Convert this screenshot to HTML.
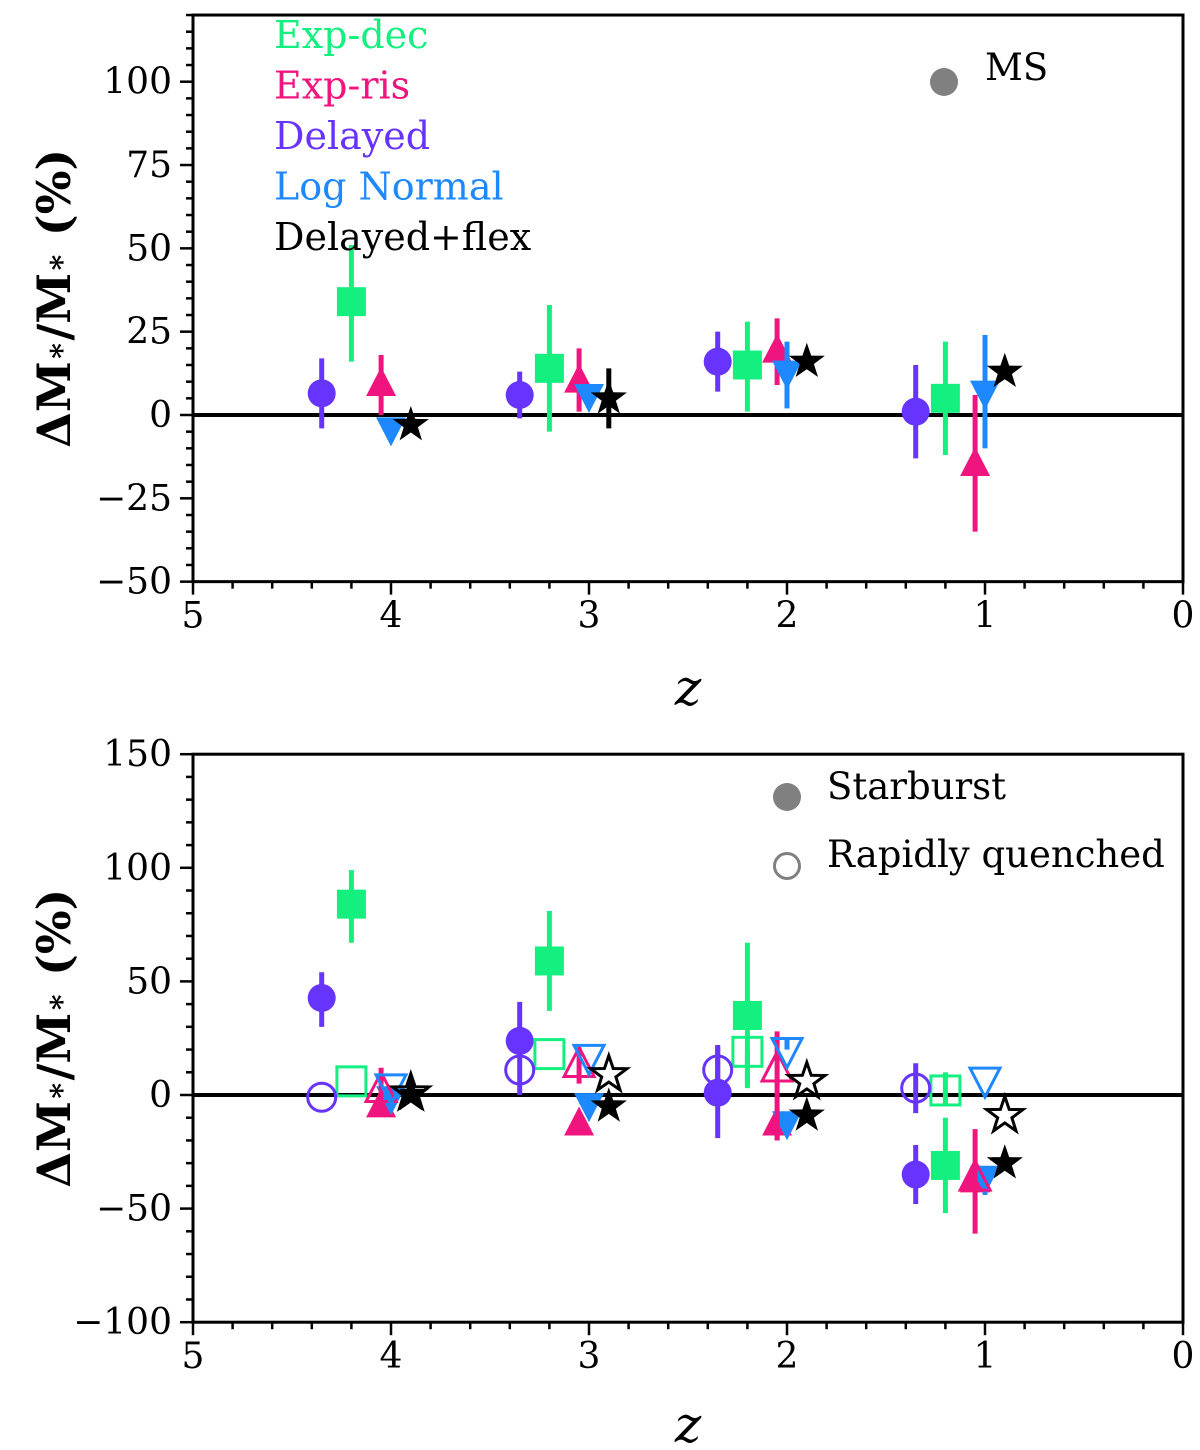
<!DOCTYPE html>
<html><head><meta charset="utf-8"><style>
body{margin:0;background:#fff}
svg text{font-family:"DejaVu Serif","Liberation Serif",serif}
</style></head><body>
<svg id="c" width="1200" height="1445" xmlns="http://www.w3.org/2000/svg"></svg>
<script>
const NS="http://www.w3.org/2000/svg";
const svg=document.getElementById('c');
const models=["Exp-dec","Exp-ris","Delayed","Log Normal","Delayed+flex"];
const colors=["#14f07f","#f0147f","#6633ff","#1e88ff","#000000"];
const shapes=["square","tri-up","circle","tri-down","star"];
const zOffsets=[0.8,0.95,0.65,1.0,1.1];
const groups=[5,4,3,2];
// top panel (MS): [value, errLow, errHigh] per model per group
const msExpDec=[[34,16,51],[14,-5,33],[15,1,28],[5,-12,22]];
const msExpRis=[[9,0,18],[10,1,20],[19,9,29],[-15,-35,6]];
const msDelayed=[[6.5,-4,17],[6,-1,13],[16,7,25],[1,-13,15]];
const msLogNormal=[[-4,-4,-4],[6,6,6],[13,2,22],[7,-10,24]];
const msFlex=[[-3,-3,-3],[5,-4,14],[16,16,16],[13,13,13]];
// bottom panel starburst (filled)
const sbExpDec=[[84,67,99],[59,37,81],[35,3,67],[-31,-52,-10]];
const sbExpRis=[[-5,-5,-5],[-13,-13,-13],[-13,-20,-13],[-38,-38,-38]];
const sbDelayed=[[42.7,30,54],[23.8,0,41],[1,-19,21],[-35,-48,-22]];
const sbLogNormal=[[-1,-1,-1],[-4,-4,-4],[-12,-12,-12],[-36,-44,-36]];
const sbFlex=[[0,0,0],[-5,-5,-5],[-9,-9,-9],[-30,-30,-30]];
// rapidly quenched (open)
const rqExpDec=[[6,6,6],[18,18,18],[19,5,19],[2,-5,10]];
const rqExpRis=[[2,-2,12],[13,5,21],[11,-20,28],[-37,-61,-15]];
const rqDelayed=[[-1,-1,-1],[11,11,11],[11,0,22],[3,-8,14]];
const rqLogNormal=[[4,4,4],[17,17,17],[20,20,25],[7,7,7]];
const rqFlex=[[1,1,1],[9,9,9],[6,6,6],[-9,-9,-9]];
const topYTicks=[-50,-25,0,25,50,75,100];
const botYTicks=[-100,-50,0,50,100,150];
const xTicks=[5,4,3,2,1,0];

function el(tag,a,parent){const e=document.createElementNS(NS,tag);for(const k in a)e.setAttribute(k,a[k]);(parent||svg).appendChild(e);return e;}
const xs=z=>193+(5-z)*198;

function marker(g,shape,cx,cy,col,filled){
  const s=14.5;let e;
  const st=filled?{fill:col,stroke:'none'}:{fill:'none',stroke:col,'stroke-width':3};
  if(shape==='circle')e=el('circle',Object.assign({cx,cy,r:14},st),g);
  else if(shape==='square')e=el('rect',Object.assign({x:cx-s,y:cy-s,width:2*s,height:2*s},st),g);
  else if(shape==='tri-up')e=el('polygon',Object.assign({points:`${cx},${cy-18} ${cx+15},${cy+11} ${cx-15},${cy+11}`},st),g);
  else if(shape==='tri-down')e=el('polygon',Object.assign({points:`${cx},${cy+18} ${cx+15},${cy-11} ${cx-15},${cy-11}`},st),g);
  else{let p=[];for(let i=0;i<10;i++){const r=i%2?7.5:19,a=-Math.PI/2+i*Math.PI/5;p.push((cx+r*Math.cos(a)).toFixed(1)+','+(cy+r*Math.sin(a)).toFixed(1));}
    e=el('polygon',Object.assign({points:p.join(' ')},st),g);}
  
  
}

function panel(name,y0,pxPer,ymin,ymax,yticks,minorStep,sets,filledFlags,xlabelY){
  const ys=v=>y0-v*pxPer;
  const g=el('g',{});
  
  
  const top=ys(ymax),bot=ys(ymin);
  el('line',{x1:193,x2:1183,y1:ys(0),y2:ys(0),stroke:'#000','stroke-width':4},g);
  for(let v=ymin;v<=ymax+1e-6;v+=minorStep){const major=yticks.includes(v);
    el('line',{x1:193,x2:major?180:186,y1:ys(v),y2:ys(v),stroke:'#000','stroke-width':2.5},g);}
  yticks.forEach(v=>{const t=el('text',{x:172,y:ys(v)+12,'text-anchor':'end','font-size':36},g);t.textContent=(v<0?'\u2212'+(-v):v);
    });
  for(let z=0;z<=5.001;z+=0.2){const major=Math.abs(z-Math.round(z))<1e-6;
    el('line',{x1:xs(z),x2:xs(z),y1:bot,y2:bot+(major?13:7),stroke:'#000','stroke-width':2.5},g);}
  xTicks.forEach(z=>{const t=el('text',{x:xs(z),y:bot+46,'text-anchor':'middle','font-size':36},g);t.textContent=z;
    });
  el('rect',{x:193,y:top,width:990,height:bot-top,fill:'none',stroke:'#000','stroke-width':3},g);
  const xl=el('text',{x:688,y:xlabelY,'text-anchor':'middle','font-size':50,'font-style':'italic'},g);xl.textContent='z';
  
  const yl=el('text',{x:0,y:0,'text-anchor':'middle','font-size':46,'font-weight':'bold',transform:`translate(70,${(top+bot)/2}) rotate(-90)`},g);
  yl.innerHTML='\u0394M<tspan font-size="30" dy="-4">\u2217</tspan><tspan dy="4">/M</tspan><tspan font-size="30" dy="-4">\u2217</tspan><tspan dy="4"> (%)</tspan>';
  
  sets.forEach((set,si)=>{
    set.forEach((arr,m)=>{
      arr.forEach((d,gi)=>{
        const cx=xs(groups[gi]-zOffsets[m]);
        if(d[2]>d[1])el('line',{x1:cx,x2:cx,y1:ys(d[1]),y2:ys(d[2]),stroke:colors[m],'stroke-width':5},g);
        marker(g,shapes[m],cx,ys(d[0]),colors[m],filledFlags[si]);
      });
    });
  });
  return g;
}
panel('ms-panel',415,3.333,-50,120,topYTicks,5,[[msExpDec,msExpRis,msDelayed,msLogNormal,msFlex]],[true],705);
panel('sb-panel',1095,2.272,-100,150,botYTicks,10,[[sbExpDec,sbExpRis,sbDelayed,sbLogNormal,sbFlex],[rqExpDec,rqExpRis,rqDelayed,rqLogNormal,rqFlex]],[true,false],1442);
models.forEach((m,i)=>{const t=el('text',{x:274,y:48+i*50.5,'font-size':38,fill:colors[i]});t.textContent=m;
  });
el('circle',{cx:944,cy:82,r:14,fill:'#808080'});
let t=el('text',{x:985,y:80,'font-size':37});t.textContent='MS';

el('circle',{cx:787,cy:797,r:14,fill:'#808080'});
let t2=el('text',{x:827,y:799,'font-size':37});t2.textContent='Starburst';

el('circle',{cx:787,cy:866,r:12.5,fill:'none',stroke:'#808080','stroke-width':3});
let t3=el('text',{x:827,y:867,'font-size':37});t3.textContent='Rapidly quenched';

</script>
</body></html>
